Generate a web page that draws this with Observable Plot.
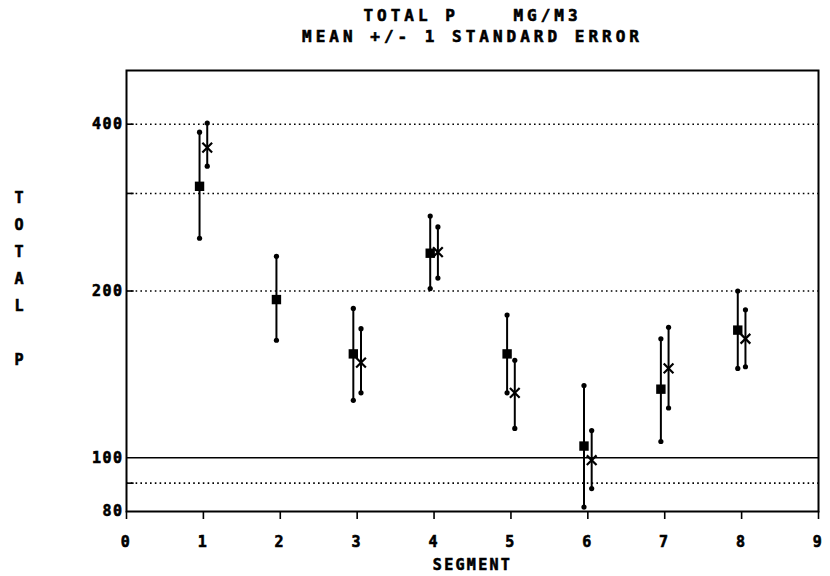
<!DOCTYPE html>
<html>
<head>
<meta charset="utf-8">
<script src="https://cdn.jsdelivr.net/npm/d3@7"></script>
<script src="https://cdn.jsdelivr.net/npm/@observablehq/plot@0.6"></script>
<style>
  html, body { margin: 0; padding: 0; background: #fff; }
  #chart svg { display: block; }
</style>
</head>
<body>
<div id="chart"></div>
<script>
// ---- data ----
const titleLines = ["TOTAL P    MG/M3", "MEAN +/- 1 STANDARD ERROR"];
const xLabel = "SEGMENT";
const yLabel = "T\nO\nT\nA\nL\n\nP";
const xTicks = [0, 1, 2, 3, 4, 5, 6, 7, 8, 9];
const yTickLabels = [80, 100, 200, 400];
const dottedGrid = [90, 200, 300, 400];
const solidGrid = [100];

// series 1 (square markers)
const sqSegments = [1, 2, 3, 4, 5, 6, 7, 8];
const sqMean = [309, 193, 154, 234, 154, 105, 133, 170];
const sqLow  = [249, 163, 127, 202, 131, 81.5, 107, 145];
const sqHigh = [387, 231, 186, 273, 181, 135, 164, 200];

// series 2 (x markers)
const xSegments = [1, 3, 4, 5, 6, 7, 8];
const xMean = [363, 148.5, 235, 131, 99, 145, 164];
const xLow  = [336, 131, 211, 113, 88, 123, 146];
const xHigh = [402, 171, 261, 150, 112, 172, 185];

const sq = sqSegments.map((s, i) => ({x: s - 0.05, mean: sqMean[i], lo: sqLow[i], hi: sqHigh[i]}));
const xs = xSegments.map((s, i) => ({x: s + 0.05, mean: xMean[i], lo: xLow[i], hi: xHigh[i]}));
const caps = [...sq, ...xs].flatMap(d => [{x: d.x, y: d.lo}, {x: d.x, y: d.hi}]);

const FONT = "'DejaVu Sans Mono', monospace";

const chart = Plot.plot({
  width: 830,
  height: 576,
  marginLeft: 126,
  marginRight: 12,
  marginTop: 70,
  marginBottom: 65,
  style: {fontFamily: FONT, fontWeight: "bold", fontSize: "15px", color: "#000", background: "#fff"},
  x: {domain: [0, 9]},
  y: {type: "log", domain: [80, 500]},
  marks: [
    // grid lines
    Plot.ruleY(dottedGrid, {stroke: "#000", strokeWidth: 1.6, strokeDasharray: "1.6,3.2"}),
    Plot.ruleY(dottedGrid, {x1: 0, x2: 0.1, stroke: "#000", strokeWidth: 1.6}),
    Plot.ruleY(solidGrid, {stroke: "#000", strokeWidth: 1.6}),
    Plot.frame({stroke: "#000", strokeWidth: 2}),
    // axes
    Plot.axisX({ticks: xTicks, tickSize: 8, tickPadding: 17, tickFormat: d => String(d),
      fontSize: 15, fontWeight: "bold", label: null, strokeWidth: 1.6}),
    Plot.axisY({ticks: yTickLabels, tickSize: 0, tickPadding: 3, tickFormat: d => String(d),
      fontSize: 15, fontWeight: "bold", label: null}),
    // error bars
    Plot.ruleX(sq, {x: "x", y1: "lo", y2: "hi", stroke: "#000", strokeWidth: 2}),
    Plot.ruleX(xs, {x: "x", y1: "lo", y2: "hi", stroke: "#000", strokeWidth: 2}),
    Plot.dot(caps, {x: "x", y: "y", r: 2.6, fill: "#000", symbol: "circle"}),
    Plot.dot(sq, {x: "x", y: "mean", r: 5.3, fill: "#000", symbol: "square"}),
    Plot.dot(xs, {x: "x", y: "mean", r: 4.5, stroke: "#000", strokeWidth: 2.2, symbol: "times"}),
    // titles and labels
    Plot.text([titleLines[0]], {frameAnchor: "top", dy: -61, text: d => d, fontSize: 16, fontWeight: "bold", fill: "#000"}),
    Plot.text([titleLines[1]], {frameAnchor: "top", dy: -40, text: d => d, fontSize: 16, fontWeight: "bold", fill: "#000"}),
    Plot.text([xLabel], {frameAnchor: "bottom", dy: 58, text: d => d, fontSize: 15, fontWeight: "bold", fill: "#000"}),
    Plot.text([yLabel], {frameAnchor: "left", dx: -112, dy: -16, text: d => d, fontSize: 15, fontWeight: "bold", fill: "#000", lineHeight: 1.8})
  ]
});

// heavier, wider lettering like the original plotter font
const svg = d3.select(chart);
svg.selectAll("text")
  .attr("stroke", "#000")
  .attr("stroke-width", 0.6)
  .style("white-space", "pre");
svg.selectAll("text").filter(function() {
  return titleLines.includes(this.textContent);
}).attr("letter-spacing", "4px");
svg.selectAll("text").filter(function() {
  const t = this.textContent;
  return t === xLabel || xTicks.map(String).includes(t);
}).attr("letter-spacing", "2.3px");
svg.selectAll("text").filter(function() {
  return yTickLabels.map(String).includes(this.textContent);
}).attr("letter-spacing", "1.5px");

document.getElementById("chart").appendChild(chart);
</script>
</body>
</html>
